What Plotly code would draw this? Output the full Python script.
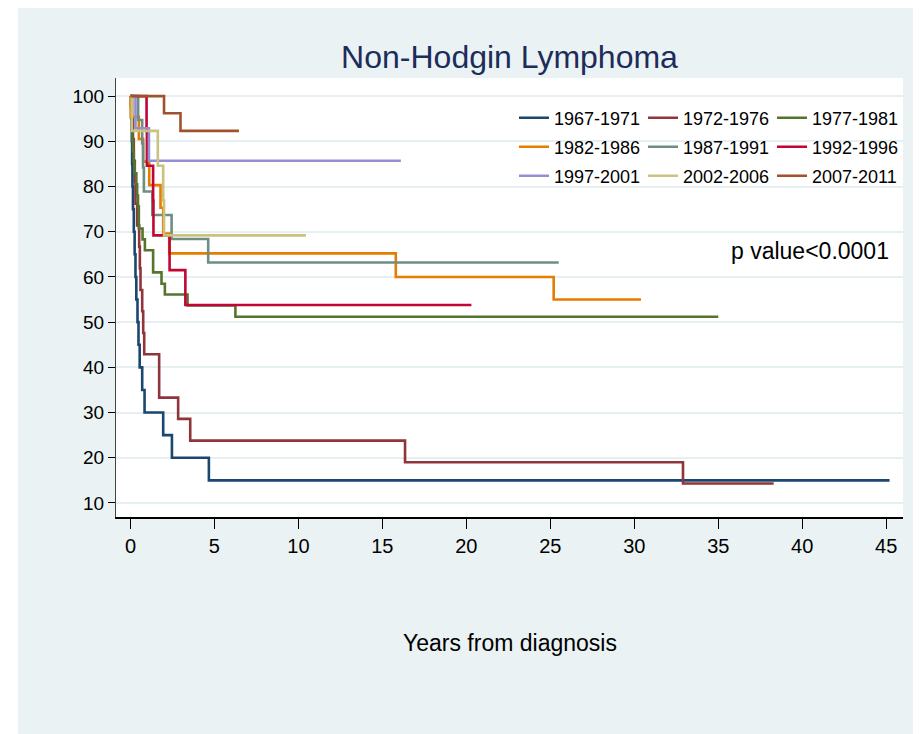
import plotly.graph_objects as go

cohorts = ["1967-1971", "1972-1976", "1977-1981",
           "1982-1986", "1987-1991", "1992-1996",
           "1997-2001", "2002-2006", "2007-2011"]

t_1967 = [0, 0.05, 0.08, 0.1, 0.12, 0.15, 0.2, 0.25, 0.3, 0.35, 0.42, 0.48, 0.55, 0.7, 0.84, 1.95, 2.47, 4.67, 45.2]
s_1967 = [100, 95, 90, 85, 80, 75, 70, 65, 60, 55, 50, 45, 40, 35, 30, 25, 20, 15, 15]

t_1972 = [0, 0.1, 0.15, 0.2, 0.26, 0.3, 0.4, 0.52, 0.56, 0.6, 0.7, 0.76, 0.82, 1.71, 2.84, 3.56, 16.35, 32.9, 38.3]
s_1972 = [100, 95.2, 90.5, 85.7, 81.0, 76.2, 71.4, 66.7, 61.9, 57.1, 52.4, 47.6, 42.9, 33.3, 28.6, 23.8, 19.0, 14.3, 14.3]

t_1977 = [0, 0.02, 0.04, 0.08, 0.12, 0.15, 0.2, 0.25, 0.35, 0.4, 0.45, 0.5, 0.72, 0.86, 1.35, 1.85, 2.05, 3.4, 6.25, 35.0]
s_1977 = [100, 97.6, 95.1, 92.7, 90.2, 87.8, 85.4, 82.9, 80.5, 78.0, 75.6, 70.7, 68.3, 65.9, 61.0, 58.5, 56.1, 53.7, 51.2, 51.2]

t_1982 = [0, 0.02, 0.5, 0.76, 1.12, 1.79, 1.95, 2.31, 15.8, 25.2, 30.4]
s_1982 = [100, 95.4, 90.5, 85.5, 80.3, 75.3, 69.6, 65.2, 60.0, 55.0, 55.0]

t_1987 = [0, 0.46, 0.7, 0.75, 0.8, 1.3, 2.45, 4.63, 25.5]
s_1987 = [100, 94.7, 89.5, 84.2, 78.9, 73.7, 68.4, 63.2, 63.2]

t_1992 = [0, 0.96, 0.98, 1.35, 1.37, 2.33, 3.27, 20.3]
s_1992 = [100, 92.3, 84.6, 76.9, 69.2, 61.5, 53.8, 53.8]

t_1997 = [0, 0.3, 1.1, 16.1]
s_1997 = [100, 92.9, 85.7, 85.7]

t_2002 = [0, 0.08, 1.63, 1.95, 2.0, 10.45]
s_2002 = [100, 92.3, 84.6, 76.9, 69.2, 69.2]

t_2007 = [0, 2.0, 2.98, 6.46]
s_2007 = [100, 96.2, 92.3, 92.3]

times = [t_1967, t_1972, t_1977, t_1982, t_1987, t_1992, t_1997, t_2002, t_2007]
surv = [s_1967, s_1972, s_1977, s_1982, s_1987, s_1992, s_1997, s_2002, s_2007]

colors = ["#1a476f", "#90353b", "#55752f", "#e37e00", "#6e8e84",
          "#c10534", "#938dd2", "#cac27e", "#a0522d"]
legend_ids = ["legend", "legend", "legend", "legend2", "legend2", "legend2",
              "legend3", "legend3", "legend3"]

x_ticks = [0, 5, 10, 15, 20, 25, 30, 35, 40, 45]
y_ticks = [10, 20, 30, 40, 50, 60, 70, 80, 90, 100]

FONT = "Liberation Sans, Arial, sans-serif"
BG = "#eaf2f3"

fig = go.Figure()
for name, t, s, c, lg in zip(cohorts, times, surv, colors, legend_ids):
    fig.add_trace(go.Scatter(x=t, y=s, mode="lines", name=name,
                             line=dict(color=c, width=2.6, shape="hv"),
                             legend=lg))

# page has an 8px body margin; positions below are page pixels
OFF = 8
W, H = 913, 726
L, T = 116 - OFF, 78 - OFF
R = W - (903 - OFF)
B = H - (517 - OFF)
pw, ph = W - L - R, H - T - B

def px_to_paper_x(px):
    return (px - OFF - L) / pw

def px_to_paper_y(py):
    return (H - B - (py - OFF)) / ph

legend_common = dict(orientation="h", xanchor="left", yanchor="middle",
                     bgcolor="rgba(0,0,0,0)", borderwidth=0,
                     entrywidth=84, entrywidthmode="pixels",
                     font=dict(family=FONT, size=18, color="#000000"),
                     itemclick=False, itemdoubleclick=False)

fig.update_layout(
    width=W, height=H,
    margin=dict(l=L, r=R, t=T, b=B, autoexpand=False),
    paper_bgcolor=BG,
    plot_bgcolor="#ffffff",
    font=dict(family=FONT, color="#000000"),
    title=dict(text="Non-Hodgin Lymphoma", x=0.5, xref="paper", xanchor="center",
               y=1 - (57 - OFF) / H, yref="container", yanchor="middle",
               font=dict(family=FONT, size=32, color="#1c2c5b")),
    legend=dict(x=px_to_paper_x(514), y=px_to_paper_y(118), **legend_common),
    legend2=dict(x=px_to_paper_x(514), y=px_to_paper_y(147), **legend_common),
    legend3=dict(x=px_to_paper_x(514), y=px_to_paper_y(176), **legend_common),
    xaxis=dict(range=[-0.86, 46.0], tickmode="array", tickvals=x_ticks,
               ticks="outside", ticklen=10, tickcolor="#000000", tickwidth=1,
               showline=True, linecolor="#000000", linewidth=1.5,
               showgrid=False, zeroline=False,
               tickfont=dict(family=FONT, size=20, color="#000000")),
    yaxis=dict(range=[6.9, 104.0], tickmode="array", tickvals=y_ticks,
               ticks="outside", ticklen=7, tickcolor="#000000", tickwidth=1,
               showline=True, linecolor="#444444", linewidth=1,
               showgrid=True, gridcolor="#e6eff1", gridwidth=2,
               zeroline=False,
               tickfont=dict(family=FONT, size=19, color="#000000")),
    showlegend=True,
)

fig.add_annotation(text="p value<0.0001", xref="paper", yref="paper",
                   x=px_to_paper_x(891), y=px_to_paper_y(251),
                   xanchor="right", yanchor="middle", showarrow=False,
                   font=dict(family=FONT, size=23, color="#000000"))
fig.add_annotation(text="Years from diagnosis", xref="paper", yref="paper",
                   x=px_to_paper_x(510), y=px_to_paper_y(643),
                   xanchor="center", yanchor="middle", showarrow=False,
                   font=dict(family=FONT, size=23, color="#000000"))

# white strip at the left edge of the page
fig.add_shape(type="rect", xref="paper", yref="paper",
              x0=px_to_paper_x(OFF), x1=px_to_paper_x(18),
              y0=px_to_paper_y(H + OFF), y1=px_to_paper_y(OFF),
              fillcolor="#ffffff", line=dict(width=0), layer="above")

fig.write_html("out.html")
